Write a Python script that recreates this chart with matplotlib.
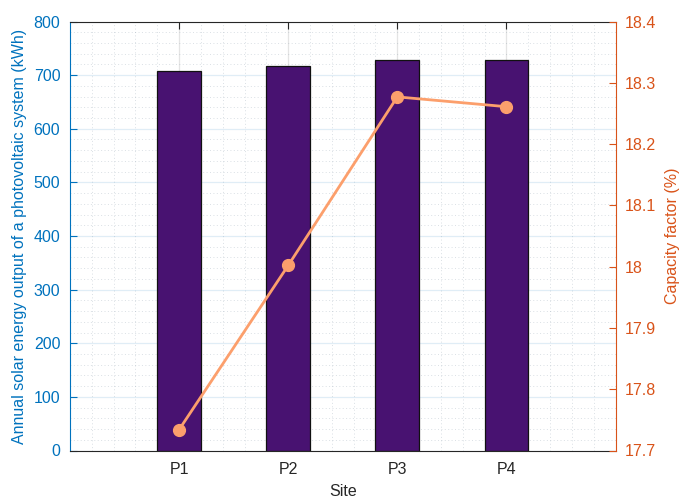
import matplotlib
matplotlib.use("Agg")
import matplotlib.pyplot as plt
from matplotlib.ticker import MultipleLocator, AutoMinorLocator

plt.rcParams['font.family'] = ['Liberation Sans', 'DejaVu Sans']

sites = ["P1", "P2", "P3", "P4"]
energy_kwh = [706.8, 717.4, 728.6, 727.8]
capacity_factor = [17.734, 18.002, 18.277, 18.261]
cf_ticks = [17.7, 17.8, 17.9, 18.0, 18.1, 18.2, 18.3, 18.4]
cf_tick_labels = ["17.7", "17.8", "17.9", "18", "18.1", "18.2", "18.3", "18.4"]

left_color = "#0072BD"
right_color = "#D95319"
bar_color = "#481271"
line_color = "#FC9F6C"
text_color = "#262626"

fig = plt.figure(figsize=(6.81, 4.99), dpi=100)
ax = fig.add_axes([70 / 681, 1 - 450.5 / 499, (615.5 - 70) / 681, (450.5 - 21.5) / 499])
x = list(range(1, len(sites) + 1))

ax.bar(x, energy_kwh, width=0.4, color=bar_color, edgecolor="#111111",
       linewidth=0.9, zorder=2)
ax.set_xlim(0, 5)
ax.set_ylim(0, 800)
ax.set_xticks(x)
ax.set_xticklabels(sites)
ax.yaxis.set_major_locator(MultipleLocator(100))
ax.xaxis.set_minor_locator(AutoMinorLocator(5))
ax.yaxis.set_minor_locator(AutoMinorLocator(5))
ax.set_axisbelow(True)
ax.grid(True, which="major", axis="y", color=left_color, alpha=0.12, linewidth=0.9)
ax.grid(True, which="major", axis="x", color=text_color, alpha=0.12, linewidth=0.9)
ax.grid(True, which="minor", color="#7a8ea0", alpha=0.28, linewidth=0.7,
        linestyle=(0, (1, 2.5)))

ax.tick_params(axis="both", which="minor", length=0)
ax.tick_params(axis="x", which="major", direction="in", length=5, top=True,
               colors=text_color, labelsize=11.5, pad=8, width=0.8)
ax.tick_params(axis="y", which="major", direction="in", length=5,
               colors=left_color, labelsize=11.5, pad=7, width=0.8)

ax.spines["left"].set_color(left_color)
ax.spines["bottom"].set_color(text_color)
ax.spines["top"].set_color(text_color)
ax.spines["right"].set_visible(False)
for s in ax.spines.values():
    s.set_linewidth(0.8)

ax.set_xlabel("Site", fontsize=11.5, color=text_color, labelpad=5)
ax.set_ylabel("Annual solar energy output of a photovoltaic system (kWh)",
              fontsize=11.5, color=left_color, labelpad=5)

ax2 = ax.twinx()
ax2.plot(x, capacity_factor, color=line_color, linewidth=2, marker="o",
         markersize=8.5, zorder=3)
ax2.set_ylim(17.7, 18.4)
ax2.set_yticks(cf_ticks)
ax2.set_yticklabels(cf_tick_labels)
ax2.tick_params(axis="y", which="major", direction="in", length=5,
                colors=right_color, labelsize=11.5, pad=7, width=0.8)
ax2.tick_params(axis="y", which="minor", length=0)
ax2.spines["right"].set_color(right_color)
ax2.spines["right"].set_linewidth(0.8)
for side in ("left", "top", "bottom"):
    ax2.spines[side].set_visible(False)
ax2.set_ylabel("Capacity factor (%)", fontsize=11.5, color=right_color, labelpad=6)

fig.savefig("out.png", dpi=100)
